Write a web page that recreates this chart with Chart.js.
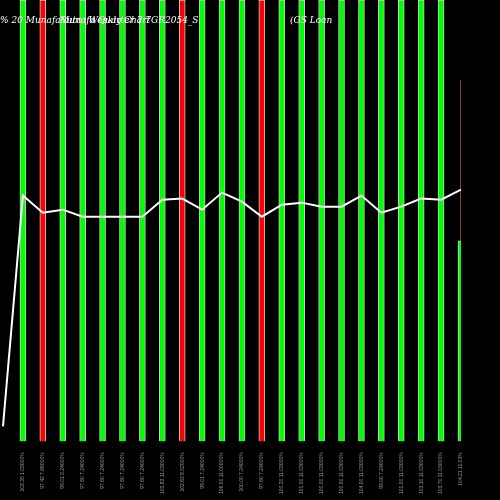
<!DOCTYPE html>
<html><head><meta charset="utf-8">
<script src="https://cdn.jsdelivr.net/npm/chart.js"></script>
<style>body{margin:0;background:#000}#w{width:500px;height:500px}</style>
</head><body><div id="w"><canvas id="c"></canvas></div>
<script>
const labels = ["", "103.35 1.03000%", "97.42 7.66000%", "99.01 3.24000%", "97.60 7.24000%", "97.60 7.24000%", "97.60 7.24000%", "97.60 7.24000%", "103.83 11.03000%", "102.63 8.52000%", "99.01 7.24000%", "106.00 11.00000%", "100.00 7.24000%", "97.60 7.24000%", "100.20 11.03000%", "101.00 11.03000%", "100.00 11.03000%", "100.00 11.03000%", "104.00 11.03000%", "99.00 7.24000%", "101.00 11.03000%", "103.10 11.03000%", "103.70 11.03000%", "104.21 11.03%"];
const barValues = [null, 440, 440, 440, 440, 440, 440, 440, 440, 440, 440, 440, 440, 440, 440, 440, 440, 440, 440, 440, 440, 440, 440, 200];
const barUp = [true, true, false, true, true, true, true, true, true, false, true, true, true, false, true, true, true, true, true, true, true, true, true, true];
const lineValues = [15, 245, 228, 231, 224, 224, 224, 224, 241, 242, 231, 248, 239, 224, 236, 238, 234, 234, 245, 228, 234, 242, 241, 251];
const wick = [null, null, null, null, null, null, null, null, null, null, null, null, null, null, null, null, null, null, null, null, null, null, null, [200, 360]];

const titlePlugin = {
  id: "title",
  afterDraw(chart) {
    const ctx = chart.ctx;
    ctx.save();
    ctx.fillStyle = "#fff";
    ctx.font = "italic 9px 'DejaVu Serif'";
    ctx.fillText("% 20 MunafaSutra Weekly Chart", 0, 23);
    ctx.fillText("Munafa Quarter 7.7GR2054_S", 60, 23);
    ctx.fillText("(GS Loan", 290, 23);
    ctx.restore();
  }
};

new Chart(document.getElementById("c"), {
  data: {
    labels: labels,
    datasets: [
      { type: "line", data: lineValues, borderColor: "#fff", borderWidth: 2, pointRadius: 0, tension: 0, order: 0 },
      { type: "bar", data: wick, backgroundColor: "#a0522d", barThickness: 1, grouped: false, order: 2 },
      { type: "bar", data: barValues, backgroundColor: barUp.map(u => u ? "#00ff00" : "#ff0000"), borderColor: "#ccc", borderWidth: 1, barThickness: 6, grouped: false, order: 1 }
    ]
  },
  options: {
    responsive: true, maintainAspectRatio: false, animation: false,
    layout: { padding: { left: 0, right: 39, top: 0, bottom: 3 } },
    plugins: { legend: { display: false }, tooltip: { enabled: false } },
    scales: {
      x: { offset: false, grid: { display: false }, border: { display: false },
        ticks: { autoSkip: false, minRotation: 90, maxRotation: 90, color: "#999", font: { size: 5 } } },
      y: { display: false, min: 0, max: 440 }
    }
  },
  plugins: [titlePlugin]
});
</script></body></html>
